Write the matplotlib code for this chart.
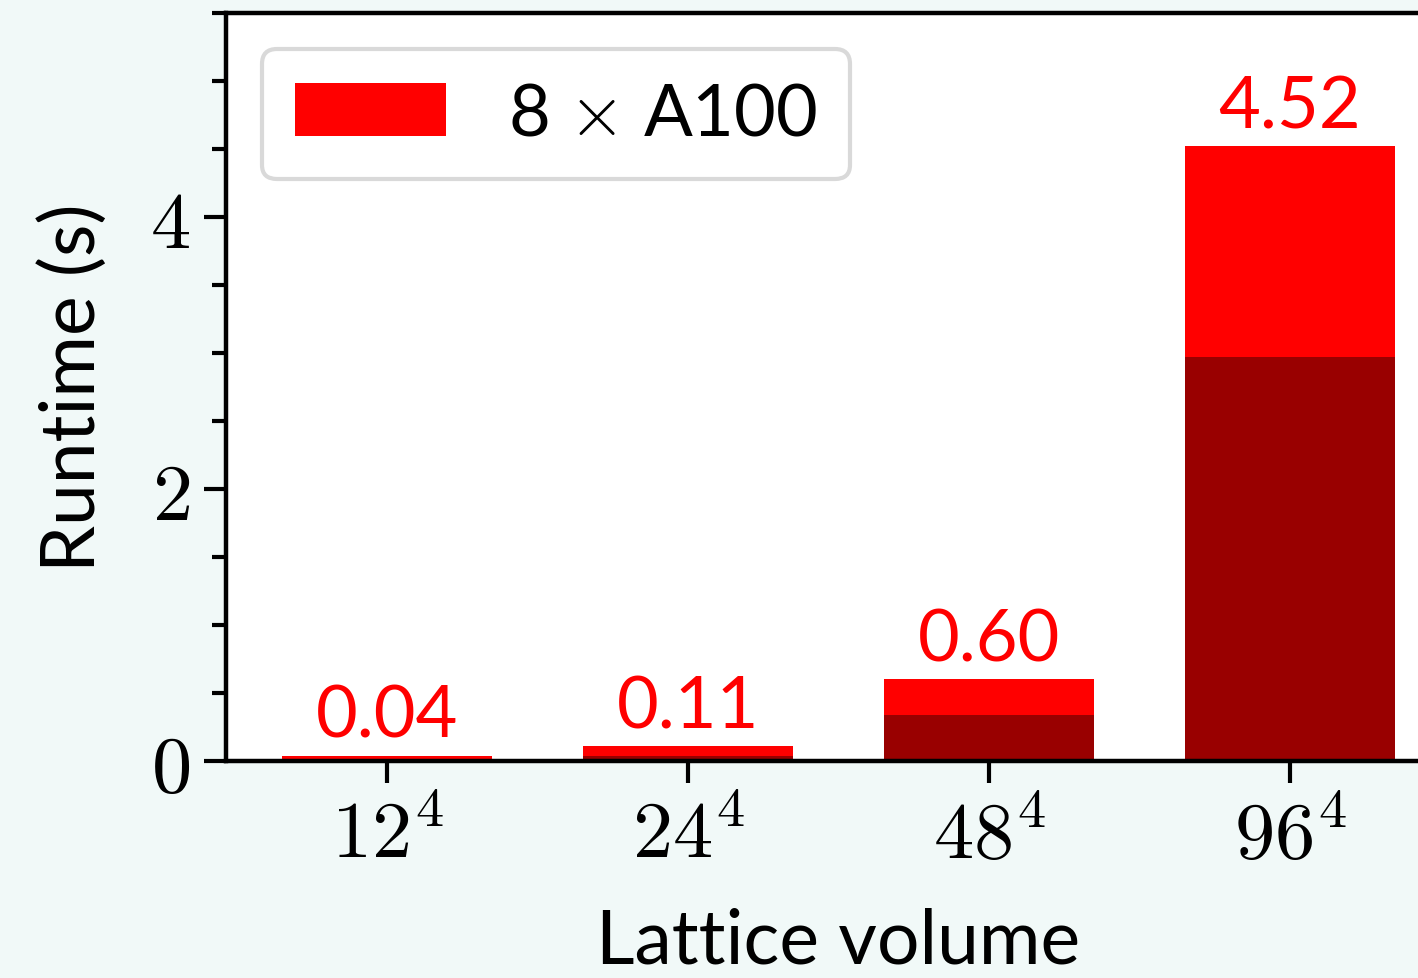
import numpy as np
import matplotlib
matplotlib.use("Agg")
import matplotlib.pyplot as plt

plt.rcParams["mathtext.fontset"] = "cm"
plt.rcParams["font.family"] = ["Lato", "DejaVu Sans"]

volumes = [r"$12^4$", r"$24^4$", r"$48^4$", r"$96^4$"]
total = [0.04, 0.11, 0.60, 4.52]
inner = [0.015, 0.035, 0.34, 2.97]
labels = ["0.04", "0.11", "0.60", "4.52"]

fig = plt.figure(figsize=(14.18, 9.79), dpi=100, facecolor="#f1f9f8")
ax = fig.add_axes([0.1594, 0.2217, 0.8639, 0.764])

x = np.arange(len(volumes))
ax.bar(x, total, width=0.7, color="#ff0000", label=r"8 $\times$ A100")
ax.bar(x, inner, width=0.7, color="#990000")

# value labels above the bars
for xi, t, lab in zip(x, total, labels):
    ax.text(xi, t + 0.05, lab, ha="center", va="bottom", color="#ff0000", fontsize=52)

ax.set_xlim(-0.535, 3.535)
ax.set_ylim(0, 5.5)
ax.set_xticks(x)
ax.set_xticklabels(volumes, fontsize=58)
ax.set_yticks([0, 2, 4])
ax.set_yticklabels([r"$0$", r"$2$", r"$4$"], fontsize=58)
ax.set_yticks(np.arange(0, 5.51, 0.5), minor=True)

ax.tick_params(axis="both", which="major", length=16, width=3, pad=10)
ax.tick_params(axis="y", which="minor", length=10, width=3)
for s in ax.spines.values():
    s.set_linewidth(3.2)

ax.set_xlabel("Lattice volume", fontsize=54, labelpad=25)
ax.set_ylabel("Runtime (s)", fontsize=54, labelpad=30)

leg = ax.legend(loc="upper left", fontsize=52, handlelength=2.1, handleheight=0.75,
                handletextpad=0.85, borderpad=0.45, fancybox=True, framealpha=1,
                edgecolor="#d9d9d9")
leg.get_frame().set_linewidth(3)

fig.savefig("out.png", dpi=100, facecolor=fig.get_facecolor())
